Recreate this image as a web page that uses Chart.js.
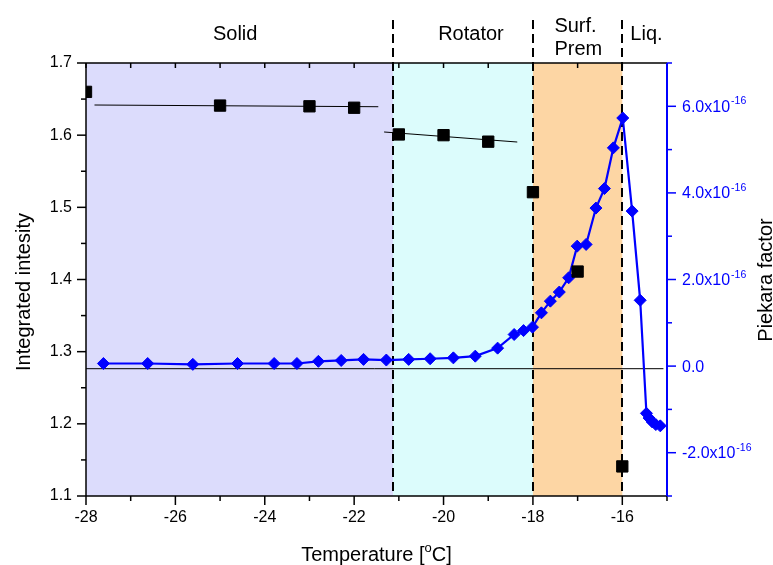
<!DOCTYPE html>
<html>
<head>
<meta charset="utf-8">
<title>Integrated intensity and Piekara factor vs temperature</title>
<script src="https://cdn.jsdelivr.net/npm/chart.js@4.4.1/dist/chart.umd.min.js"></script>
<style>
    html, body { margin: 0; padding: 0; background: #fff; }
    #wrap { width: 773px; height: 565px; }
</style>
</head>
<body>
<div id="wrap"><canvas id="phaseChart" width="773" height="565"></canvas></div>
<script>
'use strict';

// Integrated intensity (left axis)
const intensityTemp = [-28, -25, -23, -22, -21, -20, -19, -18, -17, -16];
const intensityVal = [1.660, 1.641, 1.640, 1.638, 1.601, 1.600, 1.591, 1.521, 1.411, 1.141];

// Linear fits through the solid and rotator points
const solidFitTemp = [-27.81, -21.46];
const solidFitVal = [1.6418, 1.6394];
const rotatorFitTemp = [-21.33, -18.35];
const rotatorFitVal = [1.6044, 1.5905];

// Piekara factor (right axis)
const piekaraTemp = [
    -27.61, -26.62, -25.61, -24.61, -23.79, -23.28, -22.80, -22.29, -21.79,
    -21.28, -20.78, -20.30, -19.78, -19.29, -18.79, -18.42, -18.21, -18.01,
    -17.81, -17.61, -17.41, -17.20, -17.01, -16.81, -16.59, -16.40, -16.20,
    -15.99, -15.78, -15.60, -15.46, -15.40, -15.33, -15.25, -15.15
];
const piekaraVal = [
    0.06e-16, 0.06e-16, 0.04e-16, 0.06e-16, 0.06e-16, 0.06e-16, 0.11e-16, 0.13e-16, 0.155e-16,
    0.14e-16, 0.155e-16, 0.17e-16, 0.19e-16, 0.23e-16, 0.415e-16, 0.73e-16, 0.82e-16, 0.90e-16,
    1.23e-16, 1.50e-16, 1.71e-16, 2.04e-16, 2.77e-16, 2.81e-16, 3.65e-16, 4.10e-16, 5.04e-16,
    5.73e-16, 3.58e-16, 1.52e-16, -1.09e-16, -1.20e-16, -1.29e-16, -1.35e-16, -1.38e-16
];

// Zero reference line of the Piekara factor
const baselineTemp = [-28, -15.08];
const baselineVal = [-0.06e-16, -0.06e-16];

// Phases and their temperature boundaries
const phaseNames = [['Solid'], ['Rotator'], ['Surf.', 'Prem'], ['Liq.']];
const phaseBounds = [-28, -21.13, -18, -16, -15];

// Tick values
const tempTicks = [-28, -26, -24, -22, -20, -18, -16];
const tempMinor = [-27, -25, -23, -21, -19, -17, -15];
const intensityTicks = [1.1, 1.2, 1.3, 1.4, 1.5, 1.6, 1.7];
const intensityMinor = [1.15, 1.25, 1.35, 1.45, 1.55, 1.65];
const piekaraTicks = [-2e-16, 0, 2e-16, 4e-16, 6e-16];
const piekaraMinor = [-3e-16, -1e-16, 1e-16, 3e-16, 5e-16, 7e-16];

// Styling
const FONT = "'Liberation Sans', Arial, sans-serif";
const BLUE = '#0000ff';
const phaseFill = ['#dcdcfc', '#dcfcfc', '#fdd6a4', null];
// label anchor (temperature of left edge) and baselines in px
const phaseLabelLayout = [
    { at: -25.16, base: [40] },
    { at: -20.12, base: [40] },
    { at: -17.52, base: [32, 55] },
    { at: -15.82, base: [40] }
];

const pts = (xs, ys) => xs.map((x, i) => ({ x: x, y: ys[i] }));

function seg(ctx, x0, y0, x1, y1) {
    ctx.beginPath();
    ctx.moveTo(x0, y0);
    ctx.lineTo(x1, y1);
    ctx.stroke();
}

const phasePlugin = {
    id: 'phases',
    beforeDatasetsDraw(chart) {
        const { ctx, chartArea: a, scales: { x } } = chart;
        ctx.save();
        // coloured phase bands
        phaseFill.forEach((c, i) => {
            if (!c) return;
            const x0 = x.getPixelForValue(phaseBounds[i]);
            const x1 = x.getPixelForValue(phaseBounds[i + 1]);
            ctx.fillStyle = c;
            ctx.fillRect(x0, a.top, x1 - x0, a.bottom - a.top);
        });
        // dashed phase boundaries, running up into the label strip
        ctx.strokeStyle = '#000';
        ctx.lineWidth = 2;
        ctx.setLineDash([9, 5]);
        for (let i = 1; i < phaseBounds.length - 1; i++) {
            const px = Math.round(x.getPixelForValue(phaseBounds[i]));
            seg(ctx, px, 20, px, a.bottom);
        }
        ctx.restore();
    },
    afterDraw(chart) {
        const { ctx, chartArea: a, scales: { x, y, y2 } } = chart;
        ctx.save();

        // black frame: left, bottom, top
        ctx.strokeStyle = '#000';
        ctx.lineWidth = 1.5;
        seg(ctx, a.left, a.top, a.left, a.bottom);
        seg(ctx, a.left, a.bottom, a.right, a.bottom);
        seg(ctx, a.left, a.top, a.right, a.top);

        tempTicks.forEach(v => { const p = x.getPixelForValue(v); seg(ctx, p, a.bottom, p, a.bottom + 9); });
        tempMinor.forEach(v => { const p = x.getPixelForValue(v); seg(ctx, p, a.bottom, p, a.bottom + 5); });
        tempTicks.concat(tempMinor).forEach(v => {
            const p = x.getPixelForValue(v);
            seg(ctx, p, a.top, p, a.top + 5);
        });
        intensityTicks.forEach(v => { const p = y.getPixelForValue(v); seg(ctx, a.left - 9, p, a.left, p); });
        intensityMinor.forEach(v => { const p = y.getPixelForValue(v); seg(ctx, a.left - 5, p, a.left, p); });

        // blue right axis
        ctx.strokeStyle = BLUE;
        ctx.lineWidth = 2;
        seg(ctx, a.right, a.top, a.right, a.bottom);
        ctx.lineWidth = 1.5;
        piekaraTicks.forEach(v => { const p = y2.getPixelForValue(v); seg(ctx, a.right, p, a.right + 9, p); });
        piekaraMinor.forEach(v => { const p = y2.getPixelForValue(v); seg(ctx, a.right, p, a.right + 5, p); });

        // right tick labels with exponent
        ctx.fillStyle = BLUE;
        ctx.textAlign = 'left';
        piekaraTicks.forEach(v => {
            const p = y2.getPixelForValue(v);
            const n = Math.round(v / 1e-16);
            ctx.font = '16px ' + FONT;
            ctx.textBaseline = 'middle';
            if (n === 0) {
                ctx.fillText('0.0', a.right + 15, p + 1);
                return;
            }
            const main = n.toFixed(1) + 'x10';
            ctx.fillText(main, a.right + 15, p + 1);
            const w = ctx.measureText(main).width;
            ctx.font = '10.5px ' + FONT;
            ctx.textBaseline = 'alphabetic';
            ctx.fillText('-16', a.right + 15 + w + 1, p - 2);
        });

        // axis titles
        ctx.fillStyle = '#000';
        ctx.textBaseline = 'alphabetic';
        const t1 = 'Temperature [', t2 = 'C]';
        ctx.font = '20px ' + FONT;
        const w1 = ctx.measureText(t1).width, w3 = ctx.measureText(t2).width;
        ctx.font = '13px ' + FONT;
        const w2 = ctx.measureText('o').width;
        const tx = (a.left + a.right) / 2 - (w1 + w2 + w3) / 2;
        ctx.textAlign = 'left';
        ctx.font = '20px ' + FONT;
        ctx.fillText(t1, tx, 561);
        ctx.font = '13px ' + FONT;
        ctx.fillText('o', tx + w1, 552);
        ctx.font = '20px ' + FONT;
        ctx.fillText(t2, tx + w1 + w2, 561);

        ctx.textAlign = 'center';
        ctx.save();
        ctx.translate(30, 292);
        ctx.rotate(-Math.PI / 2);
        ctx.fillText('Integrated intesity', 0, 0);
        ctx.restore();
        ctx.save();
        ctx.translate(772, 280);
        ctx.rotate(-Math.PI / 2);
        ctx.fillText('Piekara factor', 0, 0);
        ctx.restore();

        // phase names above the plot
        ctx.textAlign = 'left';
        phaseNames.forEach((lines, i) => {
            const lay = phaseLabelLayout[i];
            const px = x.getPixelForValue(lay.at);
            lines.forEach((s, j) => ctx.fillText(s, px, lay.base[j]));
        });

        ctx.restore();
    }
};

const tickFont = { family: FONT, size: 16 };

new Chart(document.getElementById('phaseChart'), {
    type: 'scatter',
    data: {
        datasets: [
            {
                label: 'Integrated intensity',
                data: pts(intensityTemp, intensityVal),
                yAxisID: 'y',
                pointStyle: 'rect',
                pointRadius: 8,
                pointBorderWidth: 1,
                backgroundColor: '#000',
                borderColor: '#000',
                clip: 0,
                order: 0
            },
            {
                label: 'Piekara factor',
                data: pts(piekaraTemp, piekaraVal),
                yAxisID: 'y2',
                showLine: true,
                borderColor: BLUE,
                backgroundColor: BLUE,
                borderWidth: 2.2,
                pointStyle: 'rectRot',
                pointRadius: 6,
                pointBorderWidth: 1,
                order: 1
            },
            {
                label: 'Solid fit',
                data: pts(solidFitTemp, solidFitVal),
                yAxisID: 'y',
                showLine: true,
                borderColor: '#000',
                borderWidth: 1,
                pointRadius: 0,
                order: 2
            },
            {
                label: 'Rotator fit',
                data: pts(rotatorFitTemp, rotatorFitVal),
                yAxisID: 'y',
                showLine: true,
                borderColor: '#000',
                borderWidth: 1,
                pointRadius: 0,
                order: 2
            },
            {
                label: 'Zero',
                data: pts(baselineTemp, baselineVal),
                yAxisID: 'y2',
                showLine: true,
                borderColor: '#000',
                borderWidth: 1,
                pointRadius: 0,
                order: 3
            }
        ]
    },
    options: {
        responsive: false,
        devicePixelRatio: 1,
        animation: false,
        layout: { padding: { top: 63, left: 0, right: 0, bottom: 0 } },
        plugins: {
            legend: { display: false },
            tooltip: { enabled: false }
        },
        scales: {
            x: {
                type: 'linear',
                min: -28,
                max: -15,
                grid: { display: false, drawTicks: false },
                border: { display: false },
                afterBuildTicks: s => { s.ticks = tempTicks.map(v => ({ value: v })); },
                ticks: {
                    font: tickFont, color: '#000', padding: 12,
                    maxRotation: 0, autoSkip: false,
                    callback: v => String(v)
                },
                afterFit: s => { s.height = 69; }
            },
            y: {
                position: 'left',
                min: 1.1,
                max: 1.7,
                grid: { display: false, drawTicks: false },
                border: { display: false },
                afterBuildTicks: s => { s.ticks = intensityTicks.map(v => ({ value: v })); },
                ticks: {
                    font: tickFont, color: '#000', padding: 14,
                    callback: v => v.toFixed(1)
                },
                afterFit: s => { s.width = 86; }
            },
            y2: {
                position: 'right',
                min: -3e-16,
                max: 7e-16,
                grid: { display: false, drawTicks: false },
                border: { display: false },
                ticks: { display: false },
                afterFit: s => { s.width = 106; }
            }
        }
    },
    plugins: [phasePlugin]
});
</script>
</body>
</html>
